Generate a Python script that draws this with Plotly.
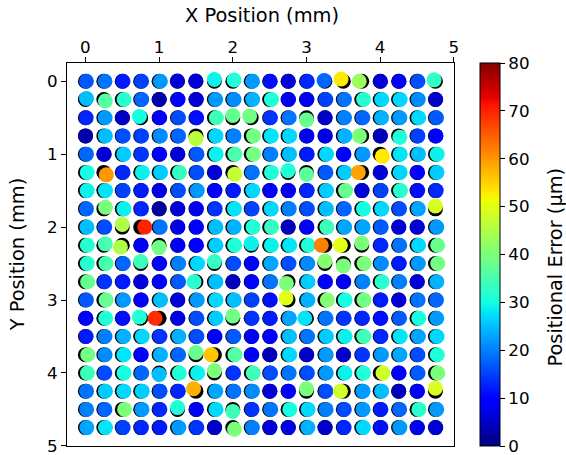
import numpy as np
import plotly.graph_objects as go

# Nominal grid positions (mm)
x_positions = [0.0, 0.25, 0.5, 0.75, 1.0, 1.25, 1.5, 1.75, 2.0, 2.25,
               2.5, 2.75, 3.0, 3.25, 3.5, 3.75, 4.0, 4.25, 4.5, 4.75]
y_positions = [0.0, 0.25, 0.5, 0.75, 1.0, 1.25, 1.5, 1.75, 2.0, 2.25,
               2.5, 2.75, 3.0, 3.25, 3.5, 3.75, 4.0, 4.25, 4.5, 4.75]

# Positional error magnitude (um), rows = y, cols = x
error_um = [
    [17, 19, 12, 15, 22, 6, 6, 29, 31, 22, 11, 6, 13, 18, 53, 43, 6, 9, 16, 33],
    [25, 36, 32, 18, 3, 9, 6, 22, 21, 24, 31, 8, 8, 15, 19, 32, 27, 27, 21, 5],
    [13, 22, 5, 30, 10, 16, 11, 34, 38, 39, 14, 19, 38, 5, 20, 18, 24, 22, 27, 17],
    [3, 25, 16, 15, 21, 18, 46, 27, 20, 39, 28, 27, 8, 7, 24, 40, 4, 31, 15, 9],
    [18, 6, 26, 14, 10, 6, 17, 29, 35, 39, 20, 25, 12, 27, 10, 22, 53, 28, 25, 29],
    [30, 60, 13, 29, 26, 33, 16, 6, 47, 19, 31, 31, 37, 17, 26, 59, 6, 27, 10, 26],
    [29, 28, 15, 12, 7, 16, 22, 10, 12, 27, 10, 8, 13, 26, 38, 6, 15, 32, 11, 13],
    [18, 40, 29, 13, 2, 6, 8, 14, 28, 15, 27, 20, 16, 25, 18, 30, 27, 16, 23, 49],
    [25, 16, 45, 70, 19, 7, 10, 25, 24, 31, 33, 4, 8, 34, 23, 23, 17, 6, 6, 22],
    [32, 35, 45, 8, 39, 8, 10, 26, 31, 29, 29, 28, 31, 62, 50, 40, 13, 19, 27, 38],
    [32, 35, 18, 34, 10, 20, 27, 33, 16, 10, 23, 16, 21, 41, 40, 40, 21, 12, 22, 39],
    [38, 14, 12, 6, 10, 17, 32, 25, 4, 10, 19, 40, 26, 10, 8, 20, 32, 20, 6, 24],
    [17, 38, 22, 10, 25, 6, 22, 27, 25, 15, 11, 50, 24, 41, 30, 39, 12, 6, 19, 18],
    [10, 31, 11, 31, 69, 7, 16, 26, 39, 14, 12, 23, 28, 19, 14, 13, 11, 17, 30, 22],
    [12, 20, 24, 27, 14, 24, 16, 10, 17, 10, 10, 25, 19, 26, 29, 34, 13, 28, 23, 27],
    [39, 21, 28, 10, 24, 18, 38, 56, 36, 10, 4, 27, 5, 22, 5, 14, 22, 23, 16, 31],
    [34, 16, 30, 18, 25, 31, 29, 40, 14, 34, 16, 19, 16, 22, 29, 31, 48, 9, 17, 40],
    [19, 26, 27, 26, 16, 13, 58, 23, 19, 21, 6, 9, 40, 16, 48, 22, 25, 4, 8, 49],
    [20, 18, 40, 22, 13, 31, 8, 27, 34, 14, 19, 30, 27, 20, 16, 22, 12, 18, 32, 22],
    [23, 28, 15, 13, 12, 22, 14, 5, 40, 20, 6, 7, 24, 5, 13, 27, 11, 22, 8, 6],
]

# Direction of each measured displacement (screen compass, y axis points down)
error_dir = [
    "R R R R R UL UL U UR R R R R UL UL L R R R UL".split(),
    "UR DR R R R R R R R R R R R R R R R R R R".split(),
    "R R R UL R R R R U UL R R D R R R R R R R".split(),
    "R R R R R R D R R R R R R R R L R DR R R".split(),
    "R R R R R R R R R R R R R R R R DR R R R".split(),
    "R DR R R R R R R DR R R U D R R L R R R R".split(),
    "R R R R R R R R R R R R R R R R R R R R".split(),
    "R UR R R R R R R R R R R R R R R R R R U".split(),
    "R R U R R R R R R R R R R R R R R R R R".split(),
    "R UR DL R D R R R R U R R R L L U R R R R".split(),
    "R R R U R R R U R R R R R U D R R R R R".split(),
    "R R R R R R L R R R R DL R R R R R R R R".split(),
    "R R R R R R R R R R R UL R R R R R R R R".split(),
    "R R R UL L R R R U R R R L R R R R R R R".split(),
    "R R R R R R R R R R R R R R R R R R R R".split(),
    "R R R R R R U L R R R R R R R R R R R R".split(),
    "R R R R D R R U R R R R R R R R R R R R".split(),
    "R R R R R R UL R R R R R U R L R R R R U".split(),
    "R R R R R U R R D R R R R R R R R R R R".split(),
    "R R R R R R R R DR R R R R R R R R R R R".split(),
]

# Axis / colour bar ticks
x_ticks = [0, 1, 2, 3, 4, 5]
y_ticks = [0, 1, 2, 3, 4, 5]
cbar_ticks = [0, 10, 20, 30, 40, 50, 60, 70, 80]


def jet(f):
    def interp(pts, v):
        xs = [p[0] for p in pts]
        ys = [p[1] for p in pts]
        return float(np.interp(v, xs, ys))
    r = interp([(0, 0), (0.35, 0), (0.66, 1), (0.89, 1), (1, 0.5)], f)
    g = interp([(0, 0), (0.125, 0), (0.375, 1), (0.64, 1), (0.91, 0), (1, 0)], f)
    b = interp([(0, 0.5), (0.11, 1), (0.34, 1), (0.65, 0), (1, 0)], f)
    return "rgb(%d,%d,%d)" % (round(r * 255), round(g * 255), round(b * 255))


stops = sorted(set([i / 64 for i in range(65)] + [0.11, 0.125, 0.34, 0.35, 0.375, 0.64, 0.65, 0.66, 0.89, 0.91]))
jet_scale = [[s, jet(s)] for s in stops]

dir_vec = {"R": (1, 0), "L": (-1, 0), "U": (0, -1), "D": (0, 1),
           "UR": (0.7071, -0.7071), "UL": (-0.7071, -0.7071),
           "DR": (0.7071, 0.7071), "DL": (-0.7071, 0.7071)}

shift_scale = 0.8

nx, ny, mx, my, err = [], [], [], [], []
for i, yv in enumerate(y_positions):
    for j, xv in enumerate(x_positions):
        e = error_um[i][j]
        ux, uy = dir_vec[error_dir[i][j]]
        nx.append(xv)
        ny.append(yv)
        mx.append(xv + ux * e / 1000.0 * shift_scale)
        my.append(yv + uy * e / 1000.0 * shift_scale)
        err.append(e)

font_family = "DejaVu Sans"
tick_fs = 16.7
title_fs = 19.4
tick_font = dict(family=font_family, size=tick_fs, color="black")
title_font = dict(family=font_family, size=title_fs, color="black")

fig = go.Figure()
fig.add_trace(go.Scatter(
    x=nx, y=ny, mode="markers",
    marker=dict(size=15, color="black", line=dict(width=0)),
    hoverinfo="skip", showlegend=False))
fig.add_trace(go.Scatter(
    x=mx, y=my, mode="markers",
    marker=dict(size=15, color=err, colorscale=jet_scale, cmin=0, cmax=80,
                line=dict(width=0),
                colorbar=dict(
                    x=1.067, xanchor="left", y=0.5, yanchor="middle",
                    xpad=0, ypad=0,
                    len=1.0, lenmode="fraction", thickness=20, thicknessmode="pixels",
                    outlinewidth=1, outlinecolor="black",
                    ticks="outside", ticklen=5, tickwidth=1, tickcolor="black",
                    tickvals=cbar_ticks, ticklabeloverflow="allow",
                    tickfont=tick_font,
                )),
    showlegend=False))

fig.update_layout(
    width=566, height=455,
    margin=dict(l=67, r=112, t=63, b=9, autoexpand=False),
    paper_bgcolor="white", plot_bgcolor="white",
    font=dict(family=font_family, size=tick_fs, color="black"),
    xaxis=dict(side="top", range=[-0.25, 5.002], tickvals=x_ticks,
               ticks="outside", ticklen=5, tickwidth=1, tickcolor="black",
               showline=True, linecolor="black", linewidth=1, mirror=True,
               showgrid=False, zeroline=False, automargin=False,
               ticklabeloverflow="allow", ticklabelstandoff=-3, tickfont=tick_font),
    yaxis=dict(range=[5.002, -0.25], tickvals=y_ticks,
               ticks="outside", ticklen=5, tickwidth=1, tickcolor="black",
               showline=True, linecolor="black", linewidth=1, mirror=True,
               showgrid=False, zeroline=False, automargin=False,
               ticklabeloverflow="allow", tickfont=tick_font),
    annotations=[
        dict(text="X Position (mm)", xref="paper", yref="paper",
             x=0.504, y=1.125, xanchor="center", yanchor="middle",
             showarrow=False, font=title_font),
        dict(text="Y Position (mm)", xref="paper", yref="paper",
             x=-0.127, y=0.5, xanchor="center", yanchor="middle", textangle=-90,
             showarrow=False, font=title_font),
        dict(text="Positional Error (µm)", xref="paper", yref="paper",
             x=1.2636, y=0.466, xanchor="center", yanchor="middle", textangle=-90,
             showarrow=False, font=title_font),
    ],
)

fig.write_html("out.html", config={"displayModeBar": False},
               post_script="document.body.style.margin='0';document.body.style.overflow='hidden';")
